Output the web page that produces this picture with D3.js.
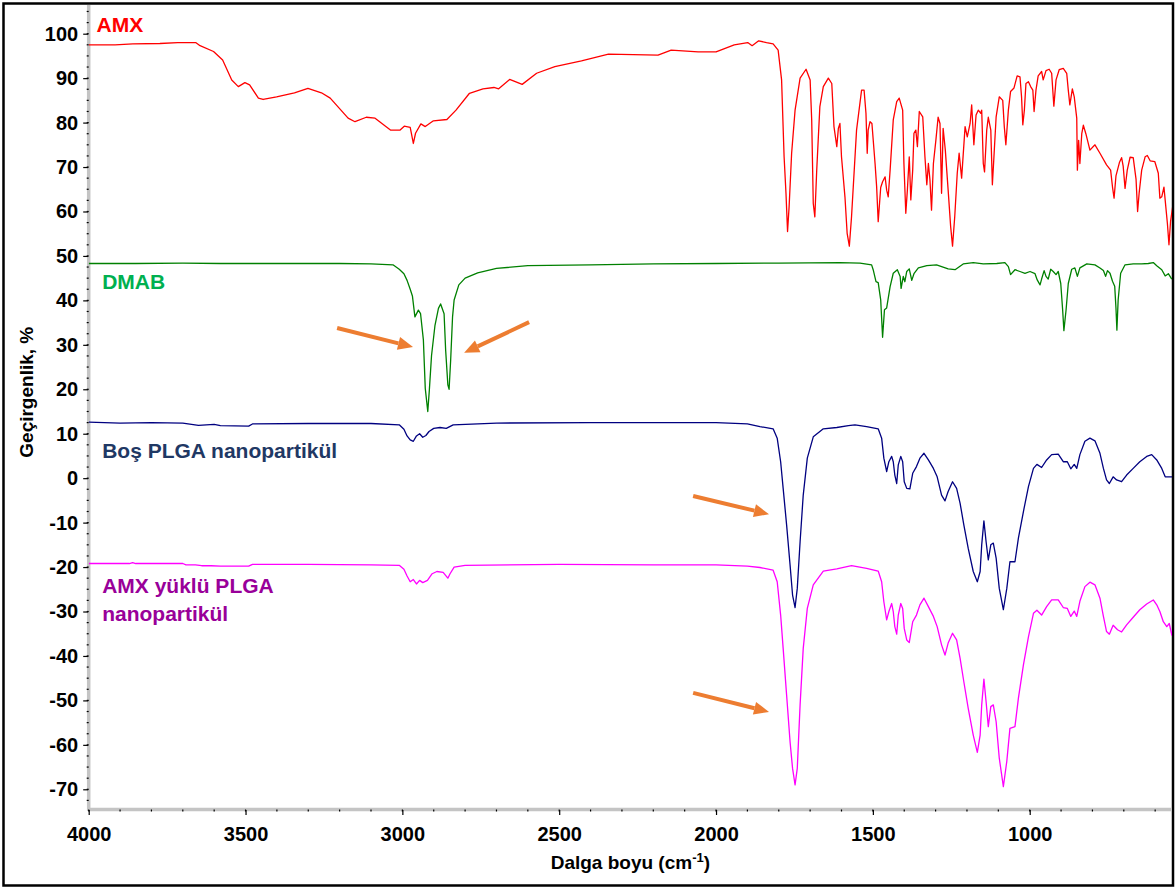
<!DOCTYPE html>
<html>
<head>
<meta charset="utf-8">
<script src="https://cdn.jsdelivr.net/npm/d3@7/dist/d3.min.js"></script>
<style>
  html, body { margin: 0; padding: 0; background: #fff; }
  svg { display: block; }
  text { font-family: Arial, "Liberation Sans", sans-serif; font-weight: bold; }
</style>
</head>
<body>
<svg id="chart" width="1176" height="888"></svg>
<script>
// FTIR spectra: [wavenumber cm-1, transmittance %] (curves are offset vertically)
const amxData = [
  [4000,97.5],[3916,97.5],[3859,97.7],[3773,97.8],[3716,98.0],[3659,98.0],[3645,97.3],[3602,96.0],
  [3573,94.1],[3544,89.6],[3523,88.1],[3502,89.0],[3487,88.5],[3459,85.5],[3444,85.2],[3401,85.8],
  [3344,86.7],[3301,87.7],[3258,86.7],[3230,85.5],[3173,81.0],[3151,80.2],[3115,81.2],[3087,81.0],
  [3037,78.3],[3008,78.3],[2994,79.2],[2975,78.9],[2965,75.3],[2958,77.6],[2941,79.7],[2927,79.1],
  [2901,80.4],[2858,80.7],[2829,82.8],[2786,86.6],[2743,87.6],[2708,87.9],[2693,87.6],[2658,89.7],
  [2618,88.6],[2572,91.1],[2514,92.6],[2429,93.9],[2343,95.4],[2185,95.2],[2143,96.3],[2057,95.9],
  [2000,95.9],[1942,97.5],[1899,98.0],[1885,97.3],[1864,98.4],[1839,98.0],[1818,97.7],[1802,96.3],
  [1791,89.6],[1783,72.3],[1777,64.1],[1772,55.5],[1767,61.1],[1759,73.1],[1748,82.8],[1732,90.0],
  [1713,92.0],[1700,89.6],[1695,80.6],[1690,61.8],[1685,58.8],[1679,69.3],[1669,83.6],[1658,88.1],
  [1642,90.0],[1631,88.8],[1624,79.1],[1615,74.6],[1610,78.7],[1605,79.8],[1600,72.3],[1589,63.3],
  [1582,55.1],[1575,52.2],[1568,58.8],[1552,78.3],[1536,87.3],[1528,87.3],[1522,82.1],[1518,73.1],
  [1515,78.3],[1509,80.2],[1503,79.8],[1493,70.8],[1488,65.6],[1483,57.7],[1475,65.4],[1469,66.7],
  [1461,67.8],[1456,64.8],[1451,63.3],[1445,69.3],[1435,80.6],[1424,84.7],[1416,85.5],[1405,82.8],
  [1401,70.8],[1395,59.6],[1390,64.8],[1384,72.3],[1379,62.6],[1373,69.3],[1369,77.6],[1363,78.3],
  [1358,74.6],[1352,82.5],[1341,81.3],[1334,72.3],[1328,66.0],[1323,70.8],[1318,67.1],[1313,60.3],
  [1307,70.8],[1299,76.1],[1292,81.2],[1286,79.8],[1281,64.1],[1276,78.7],[1269,73.8],[1260,64.8],
  [1252,56.6],[1246,52.2],[1239,58.8],[1231,68.6],[1225,73.1],[1217,67.5],[1206,79.1],[1199,76.8],
  [1190,79.8],[1185,84.0],[1178,75.0],[1171,81.7],[1164,82.8],[1156,82.1],[1153,82.8],[1148,70.8],
  [1144,68.9],[1137,78.3],[1132,81.2],[1124,78.3],[1119,66.0],[1114,72.3],[1107,81.3],[1097,85.8],
  [1086,85.0],[1081,79.1],[1076,75.0],[1068,82.8],[1061,87.0],[1050,87.8],[1040,90.5],[1031,90.3],
  [1026,85.8],[1022,79.5],[1017,82.8],[1012,88.8],[1004,89.2],[997,88.1],[990,87.3],[986,82.5],
  [980,87.3],[973,90.5],[962,91.5],[957,89.6],[948,91.7],[938,92.0],[930,91.1],[923,83.7],
  [916,89.6],[906,91.9],[893,92.2],[882,91.1],[877,87.3],[872,84.0],[864,87.6],[858,85.8],
  [850,81.0],[848,69.3],[844,76.0],[840,70.8],[834,77.5],[829,79.4],[821,77.5],[808,73.8],
  [792,75.0],[776,73.1],[755,70.5],[742,69.3],[736,65.5],[731,63.0],[725,68.0],[714,71.0],
  [707,72.1],[702,70.2],[696,65.2],[689,69.3],[680,72.2],[670,72.1],[661,67.3],[656,60.0],
  [651,64.2],[643,69.3],[632,72.3],[625,72.6],[616,71.4],[601,71.2],[590,68.6],[585,63.0],
  [579,63.3],[572,65.5],[568,62.5],[561,57.3],[556,52.5],[551,57.7],[542,62.2]
];

const dmabData = [
  [4000,48.3],[3850,48.3],[3700,48.4],[3580,48.3],[3400,48.3],[3200,48.3],[3100,48.2],[3030,48.0],
  [3010,47.0],[2995,46.0],[2985,44.5],[2975,42.5],[2968,41.0],[2960,36.3],[2949,37.8],[2942,37.0],
  [2933,31.1],[2927,20.2],[2919,15.0],[2914,19.8],[2907,27.6],[2896,34.4],[2885,38.2],[2878,39.2],
  [2867,37.0],[2862,28.8],[2855,21.0],[2851,20.0],[2846,26.6],[2840,36.3],[2835,40.1],[2820,43.5],
  [2800,45.0],[2760,46.2],[2700,47.2],[2600,47.8],[2400,48.0],[2200,48.2],[2000,48.3],[1800,48.4],
  [1605,48.5],[1541,48.4],[1504,48.0],[1499,46.9],[1490,44.2],[1483,44.0],[1475,40.1],[1469,31.7],
  [1463,37.9],[1456,38.3],[1445,43.1],[1435,46.1],[1422,46.9],[1413,45.4],[1410,42.7],[1403,45.4],
  [1398,44.2],[1392,46.5],[1384,47.1],[1376,44.5],[1369,46.0],[1355,47.3],[1328,47.8],[1297,48.0],
  [1260,47.1],[1238,46.9],[1212,48.2],[1180,48.5],[1148,48.2],[1105,48.3],[1079,48.5],[1068,47.6],
  [1061,45.8],[1047,46.9],[1031,46.5],[1015,46.1],[999,46.5],[983,46.0],[976,44.6],[967,43.5],
  [962,44.8],[954,46.7],[948,45.4],[941,44.8],[933,47.0],[925,46.5],[916,45.8],[909,46.5],
  [901,43.8],[895,37.9],[891,33.2],[884,37.9],[877,43.8],[866,47.0],[856,47.3],[848,45.4],
  [840,47.3],[818,48.2],[792,48.0],[776,47.3],[765,46.7],[758,45.4],[752,46.7],[744,46.1],
  [736,44.3],[729,43.2],[725,38.3],[722,33.3],[718,40.1],[710,46.1],[696,48.0],[670,48.2],
  [643,48.2],[622,48.3],[606,48.5],[595,47.8],[579,46.9],[568,45.5],[558,46.0],[547,44.8]
];

const plgaData = [
  [4000,12.6],[3900,12.4],[3800,12.5],[3700,12.4],[3650,11.9],[3600,12.1],[3580,11.8],[3490,11.7],
  [3478,12.2],[3300,12.3],[3100,12.3],[3010,12.0],[2995,11.0],[2985,9.5],[2975,8.6],[2965,8.3],
  [2955,9.5],[2945,10.0],[2935,9.2],[2925,9.6],[2915,10.5],[2900,11.2],[2880,11.4],[2860,11.2],
  [2838,12.0],[2700,12.4],[2400,12.5],[2000,12.5],[1900,12.2],[1860,11.6],[1818,11.1],[1805,9.0],
  [1794,3.7],[1786,-2.3],[1775,-10.5],[1764,-19.5],[1756,-26.3],[1748,-29.1],[1741,-24.8],[1732,-14.3],
  [1722,-3.8],[1709,4.5],[1690,9.3],[1658,11.1],[1615,11.4],[1578,11.8],[1557,12.0],[1520,11.6],
  [1483,11.1],[1472,9.0],[1465,4.5],[1456,1.5],[1449,3.7],[1440,4.9],[1435,3.7],[1430,0.7],
  [1424,-1.2],[1419,3.0],[1411,4.9],[1405,3.7],[1400,-0.8],[1392,-2.3],[1382,-2.4],[1373,1.1],
  [1361,2.6],[1350,4.5],[1337,5.6],[1323,4.1],[1307,2.2],[1295,0.3],[1281,-3.8],[1270,-5.1],
  [1260,-3.0],[1246,-0.8],[1233,-2.3],[1222,-5.6],[1210,-10.5],[1196,-15.8],[1180,-21.0],[1167,-23.3],
  [1158,-21.0],[1153,-15.0],[1146,-9.6],[1139,-14.3],[1132,-18.4],[1124,-15.0],[1116,-14.6],[1107,-18.0],
  [1097,-24.8],[1084,-29.6],[1073,-24.8],[1063,-18.8],[1047,-18.8],[1036,-13.5],[1020,-7.5],[1004,-1.9],
  [988,2.2],[977,3.1],[962,2.4],[946,4.1],[930,5.3],[909,5.4],[893,3.7],[880,3.7],
  [869,2.1],[858,3.1],[850,2.2],[840,5.3],[824,8.3],[808,9.0],[792,8.4],[776,5.6],
  [765,2.2],[755,-0.4],[746,-1.2],[734,0.3],[723,-0.4],[707,-0.8],[691,0.7],[670,2.2],
  [649,3.7],[627,4.9],[611,5.3],[595,4.1],[579,2.2],[568,0.3],[552,0.3],[541,0.3]
];

const amxPlgaData = [
  [4000,-19.2],[3870,-19.2],[3860,-19.0],[3850,-19.2],[3700,-19.2],[3690,-19.5],[3660,-19.5],[3640,-19.7],
  [3610,-19.7],[3580,-19.8],[3490,-19.8],[3478,-19.4],[3300,-19.4],[3100,-19.5],[3010,-19.6],[2995,-20.5],
  [2985,-22.0],[2975,-23.3],[2965,-22.8],[2955,-23.8],[2945,-23.0],[2935,-23.5],[2920,-23.0],[2905,-21.5],
  [2890,-21.0],[2870,-21.2],[2855,-22.5],[2848,-21.5],[2835,-20.0],[2800,-19.6],[2500,-19.4],[2200,-19.5],
  [2000,-19.5],[1900,-19.8],[1860,-20.1],[1818,-20.7],[1805,-23.3],[1794,-30.8],[1786,-38.3],[1775,-48.8],
  [1764,-59.3],[1756,-65.3],[1748,-69.0],[1741,-65.3],[1732,-51.0],[1722,-38.3],[1709,-29.3],[1690,-24.0],
  [1658,-20.9],[1615,-20.4],[1568,-19.7],[1520,-20.3],[1483,-20.9],[1472,-23.3],[1465,-27.8],[1456,-31.9],
  [1449,-30.0],[1440,-28.2],[1435,-30.0],[1430,-33.4],[1424,-35.1],[1419,-30.8],[1411,-28.2],[1405,-29.3],
  [1400,-33.8],[1392,-36.4],[1384,-37.0],[1373,-32.3],[1361,-30.8],[1350,-28.5],[1337,-27.0],[1323,-28.9],
  [1307,-31.1],[1295,-33.4],[1281,-37.5],[1270,-39.8],[1260,-37.1],[1246,-34.9],[1233,-36.4],[1222,-40.5],
  [1210,-45.8],[1196,-51.8],[1180,-57.8],[1167,-61.7],[1158,-57.8],[1153,-51.0],[1146,-45.2],[1139,-50.3],
  [1132,-55.9],[1124,-51.4],[1116,-51.0],[1107,-54.8],[1097,-63.0],[1084,-69.4],[1073,-63.7],[1063,-56.3],
  [1047,-55.9],[1036,-49.5],[1020,-42.0],[1004,-35.7],[988,-30.4],[977,-29.7],[962,-30.8],[946,-28.9],
  [930,-27.4],[909,-27.4],[893,-29.1],[880,-29.3],[869,-31.1],[858,-29.9],[850,-31.1],[840,-27.7],
  [824,-24.4],[808,-23.4],[792,-24.0],[776,-27.0],[765,-31.1],[755,-34.5],[746,-35.1],[734,-33.1],
  [720,-34.1],[707,-34.6],[691,-33.0],[670,-31.3],[649,-29.6],[627,-28.3],[606,-27.4],[595,-28.5],
  [585,-30.0],[574,-32.3],[563,-33.4],[555,-32.7],[547,-35.3],[544,-34.1]
];

const series = [
  { name: "AMX", data: amxData, color: "#ff0000" },
  { name: "DMAB", data: dmabData, color: "#008000" },
  { name: "Boş PLGA nanopartikül", data: plgaData, color: "#000080" },
  { name: "AMX yüklü PLGA nanopartikül", data: amxPlgaData, color: "#ff00ff" }
];

// Series labels: [text lines, wavenumber, transmittance of first baseline, colour]
const seriesLabels = [
  [["AMX"], 3975, 100.4, "#ff0000"],
  [["DMAB"], 3957, 42.5, "#00b050"],
  [["Boş PLGA nanopartikül"], 3957, 4.6, "#1f3864"],
  [["AMX yüklü PLGA", "nanopartikül"], 3957, -25.8, "#990099"]
];

// Arrows marking the bands: [from wn, from %, to wn, to %]
const arrows = [
  [3208, 33.8, 2966, 29.5],
  [2596, 35.1, 2803, 28.2],
  [2073, -4.0, 1831, -8.1],
  [2073, -48.3, 1831, -52.6]
];

const xTicks = [4000, 3500, 3000, 2500, 2000, 1500, 1000];
const yTicks = [100, 90, 80, 70, 60, 50, 40, 30, 20, 10, 0, -10, -20, -30, -40, -50, -60, -70];

const svg = d3.select("#chart");
const plot = { left: 88.7, right: 1172, top: 5, bottom: 809.5 };

const x = d3.scaleLinear().domain([4000, 1000]).range([88.7, 1029.7]);
const y = d3.scaleLinear().domain([-70, 100]).range([789.3, 33.7]);
const plainNum = d => String(d); // hyphen-minus, as printed on the axes

// outer frame
svg.append("rect").attr("x", 3.5).attr("y", 3.5).attr("width", 1169.5).attr("height", 882)
  .attr("fill", "#fff").attr("stroke", "#000").attr("stroke-width", 2.5);

svg.append("clipPath").attr("id", "plotclip").append("rect")
  .attr("x", plot.left).attr("y", plot.top).attr("width", plot.right - plot.left).attr("height", plot.bottom - plot.top);

// axis bands (grey)
svg.append("line").attr("x1", plot.left).attr("x2", plot.left).attr("y1", plot.top).attr("y2", plot.bottom + 1.5)
  .attr("stroke", "#c4c4c4").attr("stroke-width", 3.5);
svg.append("line").attr("x1", plot.left).attr("x2", plot.right).attr("y1", plot.bottom).attr("y2", plot.bottom)
  .attr("stroke", "#c4c4c4").attr("stroke-width", 3.5);

// y axis: minor ticks every 2.5, major every 10
const yMinor = d3.range(-75, 107, 2.5).filter(v => y(v) >= plot.top && y(v) <= plot.bottom - 2);
svg.append("g").selectAll("line").data(yMinor).join("line")
  .attr("x1", plot.left - 2).attr("x2", plot.left)
  .attr("y1", d => y(d)).attr("y2", d => y(d))
  .attr("stroke", "#000").attr("stroke-width", 1.2);
const yAxis = d3.axisLeft(y).tickValues(yTicks).tickSize(5).tickPadding(5).tickFormat(plainNum);
const gy = svg.append("g").attr("transform", `translate(${plot.left - 0.5},0)`).call(yAxis);
gy.select(".domain").remove();
gy.selectAll(".tick line").attr("stroke", "#000").attr("stroke-width", 1.2);
gy.selectAll(".tick text").attr("font-size", 20).attr("fill", "#000")
  .attr("font-family", "Arial, 'Liberation Sans', sans-serif").attr("font-weight", "bold");

// x axis: minor ticks every 100, major every 500
const xMinor = d3.range(4000, 540, -100).filter(v => x(v) <= plot.right);
svg.append("g").selectAll("line").data(xMinor).join("line")
  .attr("x1", d => x(d)).attr("x2", d => x(d))
  .attr("y1", plot.bottom).attr("y2", plot.bottom + 2)
  .attr("stroke", "#000").attr("stroke-width", 1.2);
const xAxis = d3.axisBottom(x).tickValues(xTicks).tickSize(5).tickPadding(12).tickFormat(plainNum);
const gx = svg.append("g").attr("transform", `translate(0,${plot.bottom + 0.5})`).call(xAxis);
gx.select(".domain").remove();
gx.selectAll(".tick line").attr("stroke", "#000").attr("stroke-width", 1.2);
gx.selectAll(".tick text").attr("font-size", 20).attr("fill", "#000")
  .attr("font-family", "Arial, 'Liberation Sans', sans-serif").attr("font-weight", "bold");

// spectra
const line = d3.line().x(d => x(d[0])).y(d => y(d[1])).curve(d3.curveLinear);
const gLines = svg.append("g").attr("clip-path", "url(#plotclip)");
gLines.selectAll("path").data(series).join("path")
  .attr("d", d => line(d.data))
  .attr("fill", "none")
  .attr("stroke", d => d.color)
  .attr("stroke-width", 1.3)
  .attr("stroke-linejoin", "round");

// series labels
seriesLabels.forEach(([lines, wn, v, col]) => {
  const t = svg.append("text").attr("x", x(wn)).attr("y", y(v)).attr("fill", col).attr("font-size", 21);
  lines.forEach((s, i) => {
    t.append("tspan").attr("x", x(wn)).attr("dy", i === 0 ? 0 : 28).text(s);
  });
});

// arrows
const arrowColor = "#ed7d31";
arrows.forEach(([w0, v0, w1, v1]) => {
  const x0 = x(w0), y0 = y(v0), x1 = x(w1), y1 = y(v1);
  const ang = Math.atan2(y1 - y0, x1 - x0);
  const headLen = 15, headHalf = 6.5;
  const bx = x1 - headLen * Math.cos(ang), by = y1 - headLen * Math.sin(ang);
  svg.append("line").attr("x1", x0).attr("y1", y0).attr("x2", bx).attr("y2", by)
    .attr("stroke", arrowColor).attr("stroke-width", 4);
  const nx = -Math.sin(ang), ny = Math.cos(ang);
  svg.append("path")
    .attr("d", `M${x1},${y1}L${bx + nx * headHalf},${by + ny * headHalf}L${bx - nx * headHalf},${by - ny * headHalf}Z`)
    .attr("fill", arrowColor);
});

// axis titles
svg.append("text")
  .attr("transform", `translate(33,${(plot.top + plot.bottom) / 2 - 15}) rotate(-90)`)
  .attr("text-anchor", "middle").attr("font-size", 19).attr("fill", "#000")
  .text("Geçirgenlik, %");

const xt = svg.append("text")
  .attr("x", (plot.left + plot.right) / 2).attr("y", 869)
  .attr("text-anchor", "middle").attr("font-size", 19).attr("fill", "#000");
xt.append("tspan").text("Dalga boyu (cm");
xt.append("tspan").attr("dy", -7).attr("font-size", 13).text("-1");
xt.append("tspan").attr("dy", 7).text(")");
</script>
</body>
</html>
